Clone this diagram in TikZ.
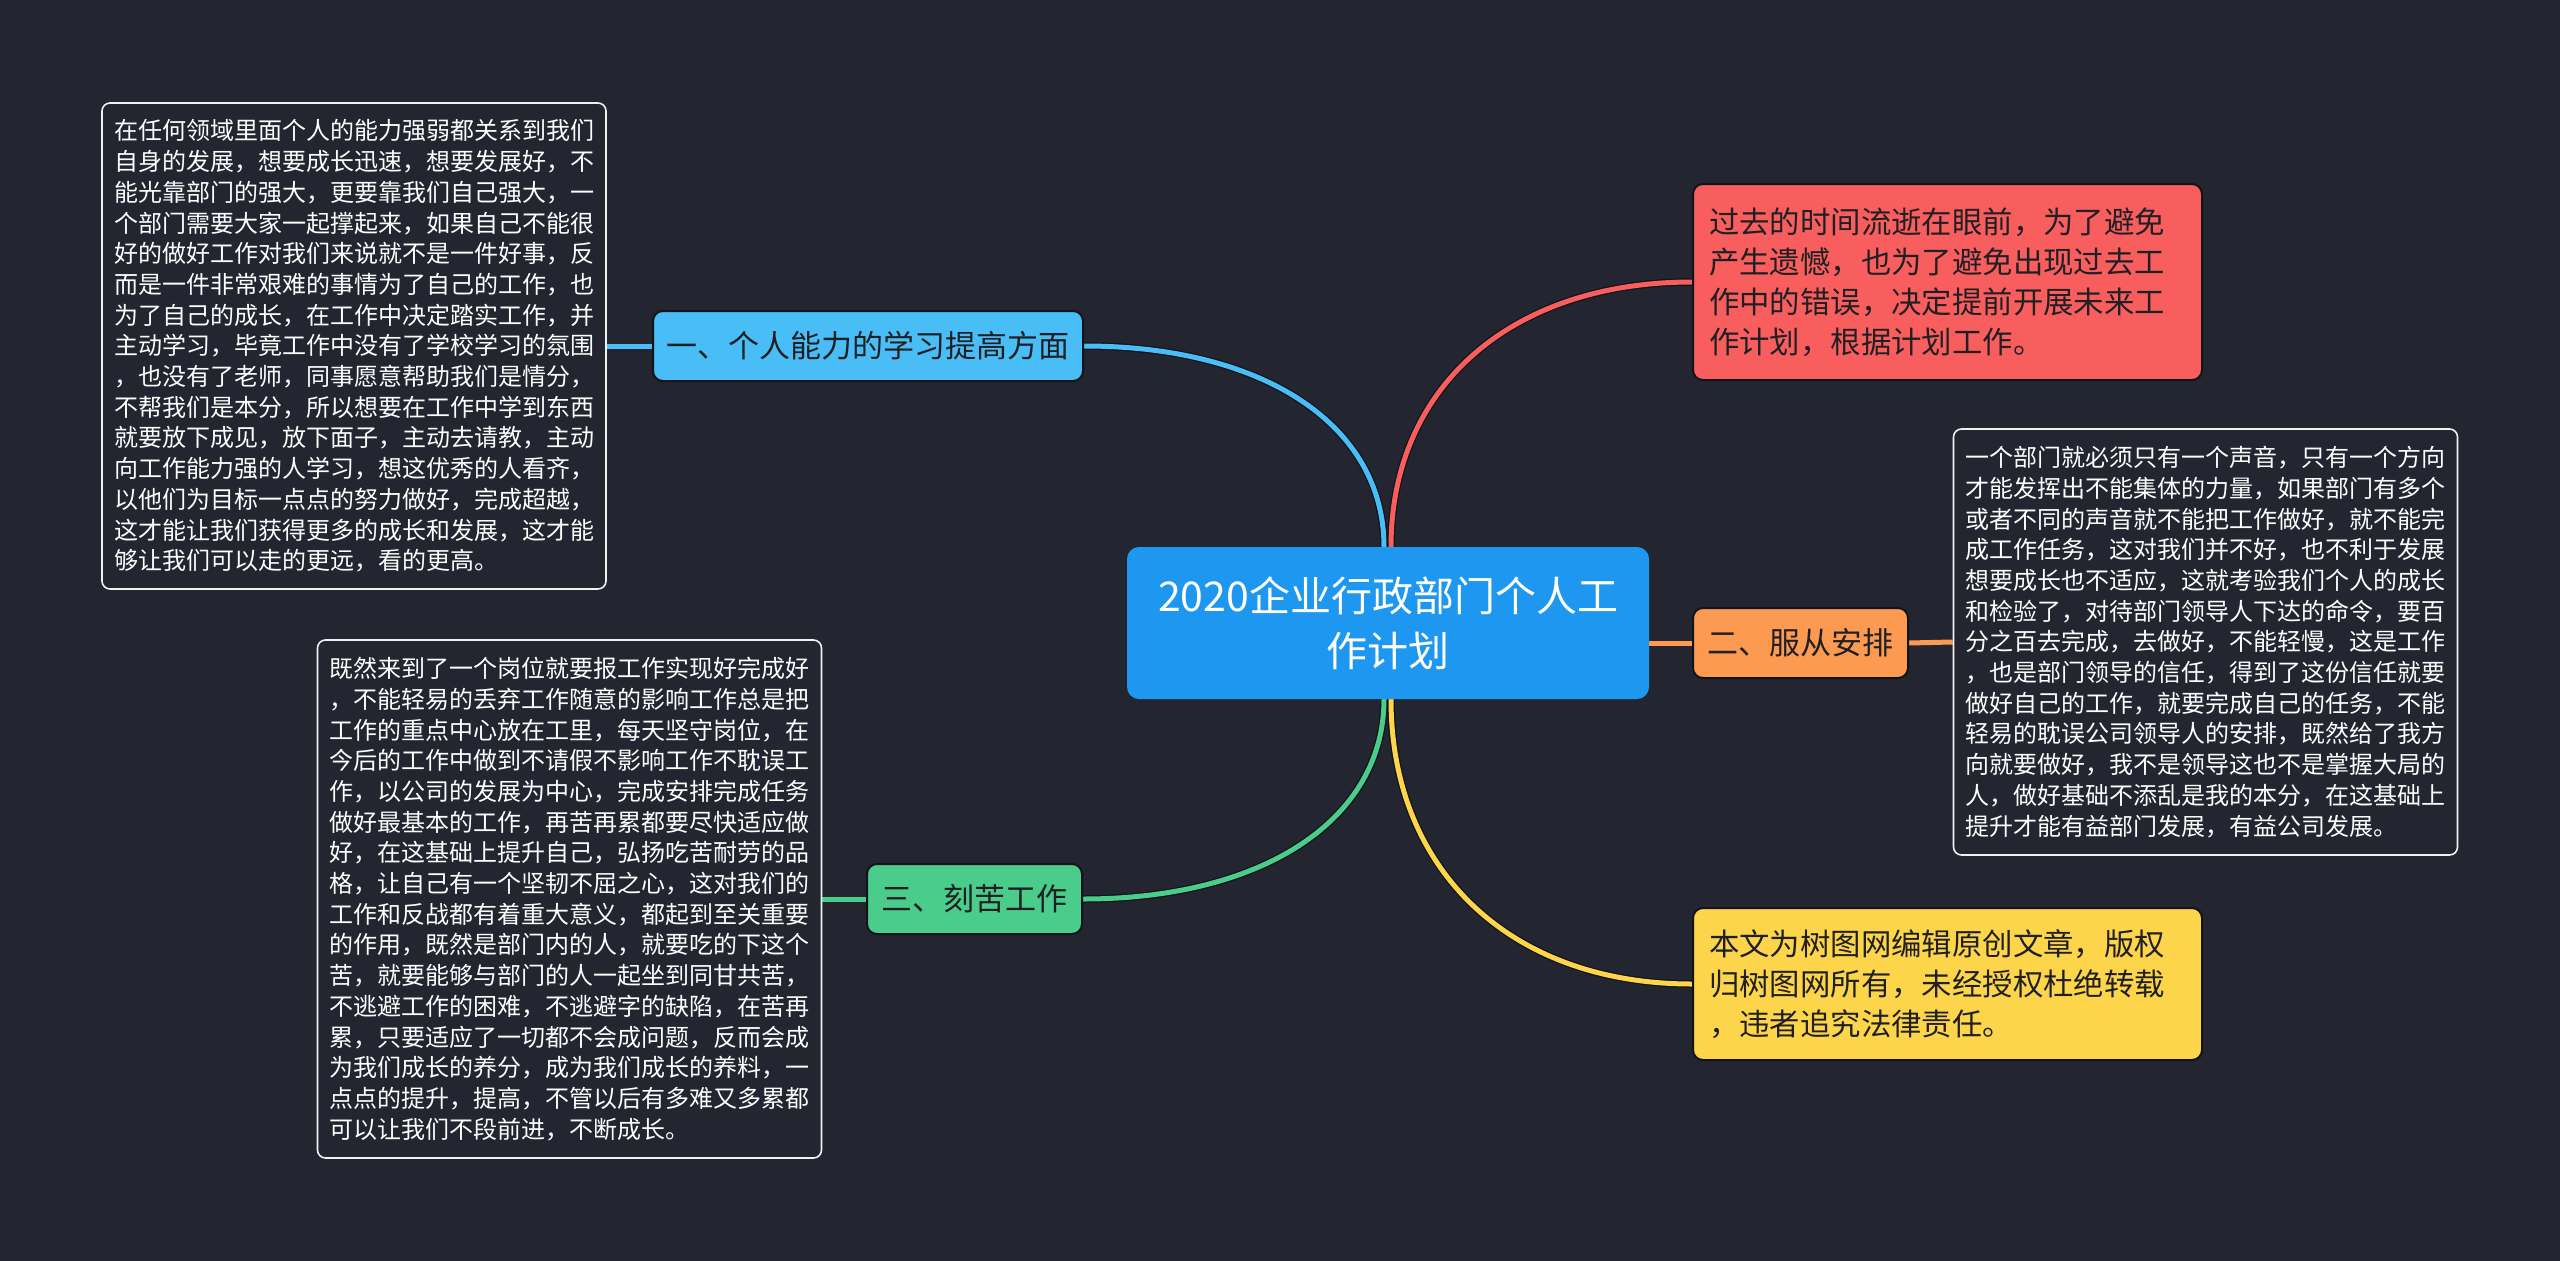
\documentclass[tikz,border=0pt]{standalone}
\usepackage{fontspec}
\usetikzlibrary{backgrounds}
\setmainfont{Noto Sans CJK SC}
\definecolor{bg}{RGB}{35,38,49}
\definecolor{cmain}{RGB}{29,151,240}
\definecolor{cblue}{RGB}{73,190,246}
\definecolor{corange}{RGB}{252,154,82}
\definecolor{cgreen}{RGB}{74,205,139}
\definecolor{cred}{RGB}{248,94,94}
\definecolor{cyellow}{RGB}{252,213,74}
\definecolor{darktxt}{RGB}{32,32,36}
\definecolor{edge}{RGB}{18,19,24}
\begin{document}
\begin{tikzpicture}[x=1pt,y=-1pt,
  txtbox/.style={draw=white!88!gray, line width=1.6pt, rounded corners=8pt, fill=bg,
    text=white, align=left, text width=480pt, inner xsep=12pt, inner ysep=0pt,
    font=\fontsize{24pt}{30.7pt}\selectfont},
  topicbox/.style={draw=edge, line width=2pt, rounded corners=10pt, text=darktxt,
    inner sep=0pt, minimum height=70pt, align=center,
    font=\fontsize{31pt}{38pt}\selectfont},
  notebox/.style={draw=edge, line width=2pt, rounded corners=10pt, text=darktxt,
    align=left, text width=477pt, inner xsep=16pt, inner ysep=0pt,
    font=\fontsize{30.4pt}{40pt}\selectfont},
  conn/.style={line width=5pt, draw=#1,
    preaction={draw=edge, line width=7.5pt}},
  straight/.style={line width=5pt, draw=#1}
]
\useasboundingbox (0,0) rectangle (2560,1261);

% central node
\node[fill=cmain, rounded corners=12pt, text=white, align=center, inner sep=0pt,
  minimum width=522pt, minimum height=152pt,
  font=\fontsize{41pt}{55pt}\selectfont] (c) at (1388,623)
  {2020企业行政部门个人工\\作计划};

% topic nodes
\node[topicbox, fill=cblue, minimum width=430pt] (n1) at (868,346) {一、个人能力的学习提高方面};
\node[topicbox, fill=corange, minimum width=215pt] (n2) at (1800.5,643) {二、服从安排};
\node[topicbox, fill=cgreen, minimum width=215pt] (n3) at (974.5,899) {三、刻苦工作};

% note nodes
\node[notebox, fill=cred, minimum height=196pt] (red) at (1947.5,282)
{过去的时间流逝在眼前，为了避免\\
产生遗憾，也为了避免出现过去工\\
作中的错误，决定提前开展未来工\\
作计划，根据计划工作。};
\node[notebox, fill=cyellow, minimum height=152pt] (yel) at (1947.5,984)
{本文为树图网编辑原创文章，版权\\
归树图网所有，未经授权杜绝转载\\
，违者追究法律责任。};

% text boxes
\node[txtbox, minimum height=486pt] (t1) at (354,346)
{在任何领域里面个人的能力强弱都关系到我们\\
自身的发展，想要成长迅速，想要发展好，不\\
能光靠部门的强大，更要靠我们自己强大，一\\
个部门需要大家一起撑起来，如果自己不能很\\
好的做好工作对我们来说就不是一件好事，反\\
而是一件非常艰难的事情为了自己的工作，也\\
为了自己的成长，在工作中决定踏实工作，并\\
主动学习，毕竟工作中没有了学校学习的氛围\\
，也没有了老师，同事愿意帮助我们是情分，\\
不帮我们是本分，所以想要在工作中学到东西\\
就要放下成见，放下面子，主动去请教，主动\\
向工作能力强的人学习，想这优秀的人看齐，\\
以他们为目标一点点的努力做好，完成超越，\\
这才能让我们获得更多的成长和发展，这才能\\
够让我们可以走的更远，看的更高。};

\node[txtbox, minimum height=518pt] (t2) at (569.5,899)
{既然来到了一个岗位就要报工作实现好完成好\\
，不能轻易的丢弃工作随意的影响工作总是把\\
工作的重点中心放在工里，每天坚守岗位，在\\
今后的工作中做到不请假不影响工作不耽误工\\
作，以公司的发展为中心，完成安排完成任务\\
做好最基本的工作，再苦再累都要尽快适应做\\
好，在这基础上提升自己，弘扬吃苦耐劳的品\\
格，让自己有一个坚韧不屈之心，这对我们的\\
工作和反战都有着重大意义，都起到至关重要\\
的作用，既然是部门内的人，就要吃的下这个\\
苦，就要能够与部门的人一起坐到同甘共苦，\\
不逃避工作的困难，不逃避字的缺陷，在苦再\\
累，只要适应了一切都不会成问题，反而会成\\
为我们成长的养分，成为我们成长的养料，一\\
点点的提升，提高，不管以后有多难又多累都\\
可以让我们不段前进，不断成长。};

\node[txtbox, minimum height=426pt] (t3) at (2205.5,642)
{一个部门就必须只有一个声音，只有一个方向\\
才能发挥出不能集体的力量，如果部门有多个\\
或者不同的声音就不能把工作做好，就不能完\\
成工作任务，这对我们并不好，也不利于发展\\
想要成长也不适应，这就考验我们个人的成长\\
和检验了，对待部门领导人下达的命令，要百\\
分之百去完成，去做好，不能轻慢，这是工作\\
，也是部门领导的信任，得到了这份信任就要\\
做好自己的工作，就要完成自己的任务，不能\\
轻易的耽误公司领导人的安排，既然给了我方\\
向就要做好，我不是领导这也不是掌握大局的\\
人，做好基础不添乱是我的本分，在这基础上\\
提升才能有益部门发展，有益公司发展。};

% connectors behind the nodes
\begin{scope}[on background layer]
\fill[bg] (0,0) rectangle (2560,1261);
\draw[conn=cblue] (n1.east) .. controls +(181,0) and +(0,-121) .. ([xshift=-4pt]c.north);
\draw[conn=cred] ([xshift=3pt]c.north) .. controls +(0,-160) and +(-181,0) .. (red.west);
\draw[conn=cgreen] ([xshift=-4pt]c.south) .. controls +(0,120) and +(181,0) .. (n3.east);
\draw[conn=cyellow] ([xshift=3pt]c.south) .. controls +(0,172) and +(-181,0) .. (yel.west);
\draw[straight=corange] (c.east |- n2.west) -- (n2.west);
\draw[straight=corange] (n2.east) -- (t3.west);
\draw[straight=cblue] (n1.west) -- (t1.east);
\draw[straight=cgreen] (n3.west) -- (t2.east);
\end{scope}
\end{tikzpicture}
\end{document}
